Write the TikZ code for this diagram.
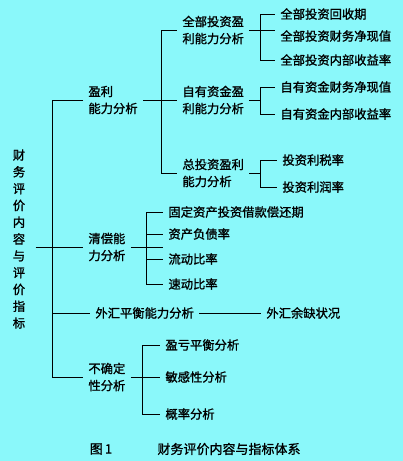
\documentclass[tikz,border=0pt]{standalone}
\usepackage{fontspec}
\setmainfont{Noto Sans CJK SC}[FakeBold=1.2]
\usetikzlibrary{calc}
\definecolor{bgcyan}{RGB}{138,248,250}

\begin{document}
\begin{tikzpicture}[x=1pt,y=-1pt,line width=0.9pt,
  item/.style={anchor=west,inner xsep=5pt,inner ysep=1pt,align=left,
    font=\fontsize{12.3}{17}\selectfont},
  caption/.style={font=\fontsize{13}{15}\selectfont}]
  \fill [bgcyan] (0,0) rectangle (403,461);
  \useasboundingbox (0,0) rectangle (403,461);

  \node [item,anchor=center,align=center,inner sep=0pt,
    font=\fontsize{12.3}{16.8}\selectfont] (root) at (19,239)
    {财\\务\\评\\价\\内\\容\\与\\评\\价\\指\\标};

  \node [item] (yl) at (83,100) {盈利\\能力分析};
  \node [item] (qc) at (83,247) {清偿能\\力分析};
  \node [item] (wh) at (90,313) {外汇平衡能力分析};
  \node [item] (bq) at (83,377) {不确定\\性分析};

  \node [item] (qb) at (177,30)  {全部投资盈\\利能力分析};
  \node [item] (zy) at (177,100) {自有资金盈\\利能力分析};
  \node [item] (zt) at (177,173) {总投资盈利\\能力分析};

  \node [item] (qb1) at (275,14)  {全部投资回收期};
  \node [item] (qb2) at (275,36)  {全部投资财务净现值};
  \node [item] (qb3) at (275,60)  {全部投资内部收益率};
  \node [item] (zy1) at (275,87)  {自有资金财务净现值};
  \node [item] (zy2) at (275,114) {自有资金内部收益率};
  \node [item] (zt1) at (277,160) {投资利税率};
  \node [item] (zt2) at (277,187) {投资利润率};

  \node [item] (qc1) at (163,212) {固定资产投资借款偿还期};
  \node [item] (qc2) at (163,234) {资产负债率};
  \node [item] (qc3) at (163,259) {流动比率};
  \node [item] (qc4) at (163,284) {速动比率};

  \node [item] (whl) at (261,313) {外汇余缺状况};

  \node [item] (bq1) at (160,345) {盈亏平衡分析};
  \node [item] (bq2) at (160,377) {敏感性分析};
  \node [item] (bq3) at (160,414) {概率分析};

  \node [caption] (fig) at (101,449) {图\,1};
  \node [caption] (cap) at (229,449) {财务评价内容与指标体系};

  \coordinate (trunk) at (52,0);
  \coordinate (b1) at (161,0);
  \coordinate (b2) at (260,0);
  \coordinate (b3) at (146,0);
  \coordinate (b4) at (142,0);

  \draw (yl.west) -- (yl.west -| trunk) -- (bq.west -| trunk) -- (bq.west);
  \draw ([xshift=10pt]root.east |- qc.west) -- (qc.west);
  \draw (wh.west -| trunk) -- (wh.west);
  \draw (wh.east) -- (whl.west);

  \draw (yl.east) -- (yl.east -| zy.west);
  \draw (qb.west -| b1) -- (zt.west -| b1);
  \foreach \n in {qb,zt}
    \draw (\n.west -| b1) -- (\n.west);

  \draw (qb.east) -- (qb.east -| qb2.west);
  \draw (qb1.west -| b2) -- (qb3.west -| b2);
  \foreach \n in {qb1,qb3}
    \draw (\n.west -| b2) -- (\n.west);

  \draw (zy.east) -- (zy.east -| b2);
  \draw (zy1.west -| b2) -- (zy2.west -| b2);
  \foreach \n in {zy1,zy2}
    \draw (\n.west -| b2) -- (\n.west);

  \draw (zt.east) -- (zt.east -| b2);
  \draw (zt1.west -| b2) -- (zt2.west -| b2);
  \foreach \n in {zt1,zt2}
    \draw (\n.west -| b2) -- (\n.west);

  \draw (qc.east) -- (qc.east -| qc1.west);
  \draw (qc1.west -| b3) -- (qc4.west -| b3);
  \foreach \n in {qc1,qc2,qc3,qc4}
    \draw (\n.west -| b3) -- (\n.west);

  \draw (bq.east) -- (bq2.west);
  \draw (bq1.west -| b4) -- (bq3.west -| b4);
  \foreach \n in {bq1,bq3}
    \draw (\n.west -| b4) -- (\n.west);
\end{tikzpicture}
\end{document}
